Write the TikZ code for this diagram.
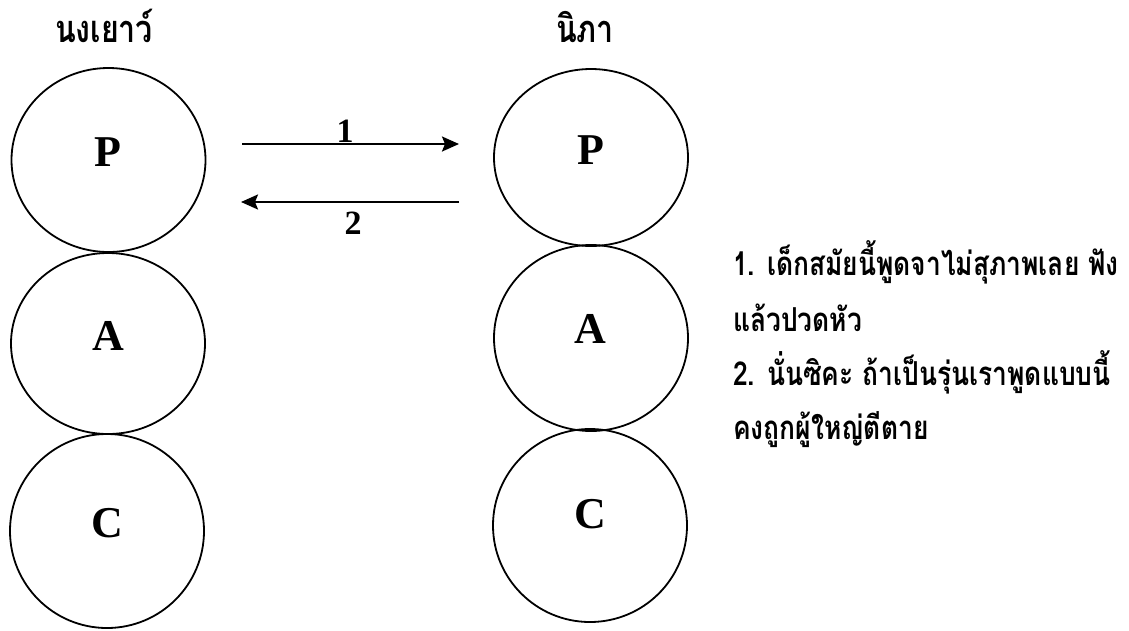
\documentclass[tikz,border=0pt]{standalone}
\usepackage{fontspec}
\setmainfont{Liberation Serif}
\newfontfamily\thaifont[Script=Thai,FakeStretch=0.8]{Loma}
\usetikzlibrary{shapes.geometric,arrows.meta}
\tikzset{
  circ/.style={draw, ellipse, line width=1.8pt, inner sep=0pt, minimum width=194pt},
  letter/.style={font=\fontsize{44}{44}\selectfont\bfseries, inner sep=0pt},
  num/.style={font=\fontsize{34}{34}\selectfont\bfseries, inner sep=0pt},
  title/.style={font=\thaifont\bfseries\fontsize{38}{38}\selectfont, inner sep=0pt, anchor=base},
  para/.style={font=\thaifont\bfseries\fontsize{33}{33}\selectfont, inner sep=0pt, anchor=base west},
  arr/.style={line width=2.2pt, -{Stealth[length=17pt,width=15pt,inset=3pt]}}
}
\begin{document}
\begin{tikzpicture}[x=1pt,y=-1pt]
\useasboundingbox (0,0) rectangle (1129,630);
% titles
\node[title] (tl) at (104,42) {นงเยาว์};
\node[title] (tr) at (585,42) {นิภา};
% left circles
\node[circ, minimum height=184pt] (lp) at (108.5,160) {};
\node[circ, minimum height=181pt] (la) at (108,343.5) {};
\node[circ, minimum height=194pt] (lc) at (107,531) {};
\node[letter] (lpt) at (108,152) {P};
\node[letter] (lat) at (108,336) {A};
\node[letter] (lct) at (107,523) {C};
% right circles
\node[circ, minimum height=177pt] (rp) at (591,157.5) {};
\node[circ, minimum height=186pt] (ra) at (591,338) {};
\node[circ, minimum height=193pt] (rc) at (590,525.5) {};
\node[letter] (rpt) at (591,150) {P};
\node[letter] (rat) at (590,329) {A};
\node[letter] (rct) at (590,514) {C};
% arrows
\coordinate (a1s) at (242,144);
\coordinate (a1e) at (459,144);
\coordinate (a2s) at (459,202);
\coordinate (a2e) at (241,202);
\draw[arr] (a1s) -- (a1e);
\draw[arr] (a2s) -- (a2e);
\node[num, anchor=south] (n1) at (345,143) {1};
\node[num] (n2) at (353,223) {2};
% text
\node[para] (t1) at (733,275) {1. เด็กสมัยนี้พูดจาไม่สุภาพเลย ฟัง};
\node[para] (t2) at (733,331) {แล้วปวดหัว};
\node[para] (t3) at (733,385) {2. นั่นซิคะ ถ้าเป็นรุ่นเราพูดแบบนี้};
\node[para] (t4) at (733,439) {คงถูกผู้ใหญ่ตีตาย};
\end{tikzpicture}
\end{document}
